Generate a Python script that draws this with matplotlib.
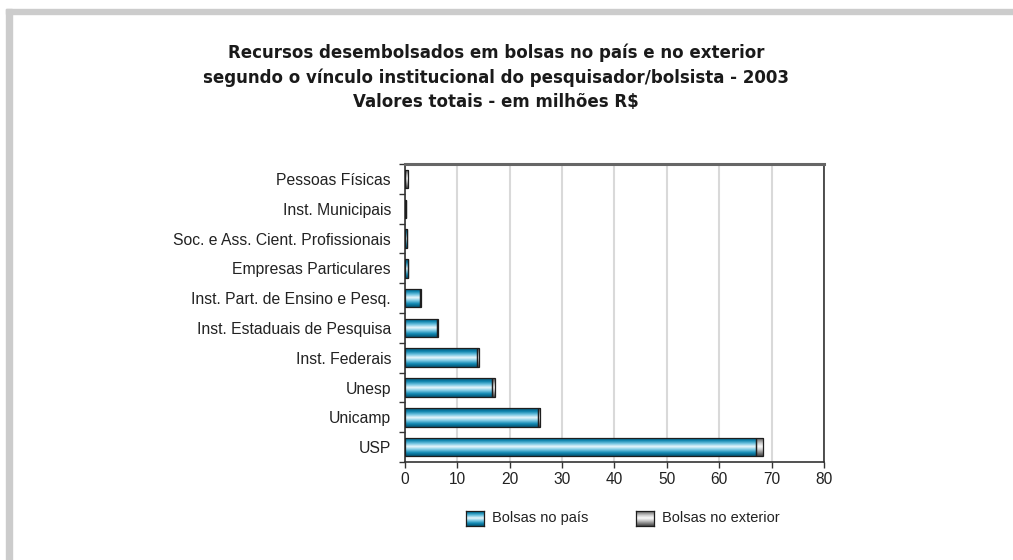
import numpy as np
import matplotlib
matplotlib.use('Agg')
import matplotlib.pyplot as plt
from matplotlib.patches import Rectangle
from matplotlib.colors import to_rgb

# dados (milhões R$), de cima para baixo
categorias = ['Pessoas Físicas', 'Inst. Municipais', 'Soc. e Ass. Cient. Profissionais',
              'Empresas Particulares', 'Inst. Part. de Ensino e Pesq.',
              'Inst. Estaduais de Pesquisa', 'Inst. Federais', 'Unesp', 'Unicamp', 'USP']
bolsas_pais = [0.05, 0.2, 0.3, 0.5, 2.9, 6.2, 13.8, 16.7, 25.4, 67.0]
bolsas_exterior = [0.6, 0.03, 0.05, 0.05, 0.1, 0.1, 0.3, 0.5, 0.4, 1.4]
x_ticks = [0, 10, 20, 30, 40, 50, 60, 70, 80]
titulo = ("Recursos desembolsados em bolsas no país e no exterior\n"
          "segundo o vínculo institucional do pesquisador/bolsista - 2003\n"
          "Valores totais - em milhões R$")

plt.rcParams['font.family'] = ['Liberation Sans', 'DejaVu Sans']

blue_stops = ['#05587a', '#0c82ab', '#6cc2df', '#eaf7fc', '#78c7e2', '#1088b2', '#045474']
grey_stops = ['#4a4a4a', '#8a8a8a', '#d0d0d0', '#fbfbfb', '#c8c8c8', '#848484', '#454545']


def _gradient(stops, n=64):
    cols = np.array([to_rgb(c) for c in stops])
    pos = np.linspace(0, 1, len(stops))
    t = np.linspace(0, 1, n)
    g = np.stack([np.interp(t, pos, cols[:, k]) for k in range(3)], axis=-1)
    return g[:, None, :]


grad_blue = _gradient(blue_stops)
grad_grey = _gradient(grey_stops)

fig = plt.figure(figsize=(10.13, 5.6), dpi=100)
ax = fig.add_axes([0.3998, 0.175, 0.4136, 0.532])

n = len(categorias)
y = np.arange(n)[::-1]
h = 0.62

bars_pais = ax.barh(y, bolsas_pais, height=h, facecolor='none',
                    edgecolor='#1e1e1e', linewidth=0.9, zorder=3)
bars_ext = ax.barh(y, bolsas_exterior, left=bolsas_pais, height=h, facecolor='none',
                   edgecolor='#1e1e1e', linewidth=0.9, zorder=3)

for bars, grad in ((bars_pais, grad_blue), (bars_ext, grad_grey)):
    for b in bars:
        x0, y0, w, hh = b.get_x(), b.get_y(), b.get_width(), b.get_height()
        im = ax.imshow(grad, extent=[x0, x0 + w, y0, y0 + hh], aspect='auto',
                       origin='upper', interpolation='bilinear', zorder=2)
        im.set_clip_path(b)

ax.set_xlim(0, 80)
ax.set_ylim(-0.5, n - 0.5)
ax.set_aspect('auto')

ax.set_xticks(x_ticks)
ax.set_xticklabels([str(v) for v in x_ticks], fontsize=11.2, color='#222222')
ax.set_yticks(y)
ax.set_yticklabels(categorias, fontsize=11.3, color='#222222')
ax.set_yticks(np.arange(n + 1) - 0.5, minor=True)
ax.tick_params(axis='y', which='major', length=0, pad=10)
ax.tick_params(axis='y', which='minor', length=4, width=1, color='#333333', direction='out')
ax.tick_params(axis='x', length=4, width=1, color='#333333', direction='out', pad=3)

ax.grid(axis='x', color='#d9d9d9', linewidth=1.5, zorder=0)
ax.set_axisbelow(True)
for side in ['left', 'bottom', 'right']:
    ax.spines[side].set_color('#333333')
    ax.spines[side].set_linewidth(1.2)
ax.spines['top'].set_color('#666666')
ax.spines['top'].set_linewidth(2.2)

fig.text(0.49, 0.862, titulo, ha='center', va='center', fontsize=12,
         fontweight='bold', color='#1a1a1a', linespacing=1.45,
         family=['Liberation Sans Narrow', 'DejaVu Sans'])

# legenda manual com gradiente
W, H = 1013.0, 560.0
legenda = [('Bolsas no país', grad_blue, 466), ('Bolsas no exterior', grad_grey, 636)]
for label, grad, px in legenda:
    sw = fig.add_axes([px / W, 1 - 526 / H, 18 / W, 15 / H])
    sw.imshow(grad, aspect='auto', interpolation='bilinear')
    sw.set_xticks([])
    sw.set_yticks([])
    for s in sw.spines.values():
        s.set_color('#1e1e1e')
        s.set_linewidth(0.9)
    fig.text((px + 26) / W, 1 - 518 / H, label, ha='left', va='center',
             fontsize=10.5, color='#222222')

# moldura cinza
fig.patches.append(Rectangle((6 / W, 1 - 14 / H), 1 - 6 / W, 5 / H,
                             transform=fig.transFigure, color='#cccccc', zorder=0))
fig.patches.append(Rectangle((6 / W, 0), 6 / W, 1 - 9 / H,
                             transform=fig.transFigure, color='#cccccc', zorder=0))

fig.savefig('out.png', dpi=100)
